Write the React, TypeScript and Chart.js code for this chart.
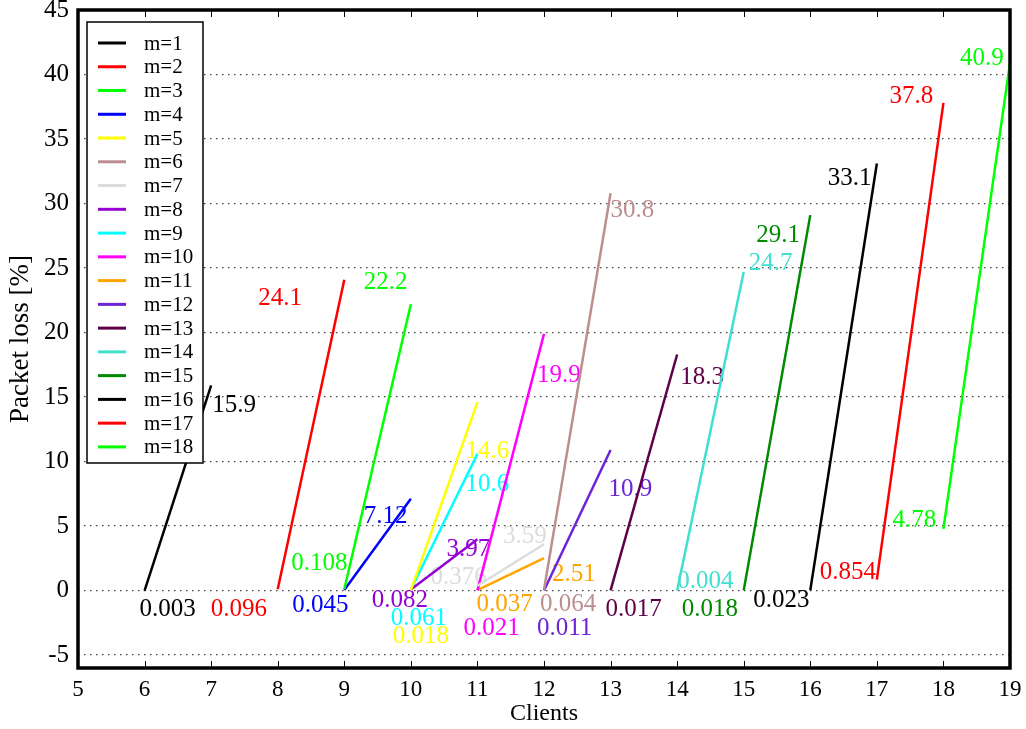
import { useEffect, useRef } from 'react';
import { Chart, registerables } from 'chart.js';

Chart.register(...registerables);

const seriesNames = ['m=1', 'm=2', 'm=3', 'm=4', 'm=5', 'm=6', 'm=7', 'm=8', 'm=9', 'm=10', 'm=11', 'm=12', 'm=13', 'm=14', 'm=15', 'm=16', 'm=17', 'm=18'];
const startClients = [6, 8, 9, 9, 10, 12, 11, 10, 10, 11, 11, 12, 13, 14, 15, 16, 17, 18];
const endClients = [7, 9, 10, 10, 11, 13, 12, 11, 11, 12, 12, 13, 14, 15, 16, 17, 18, 19];
const startLoss = [0.003, 0.096, 0.108, 0.045, 0.018, 0.064, 0.376, 0.082, 0.061, 0.021, 0.037, 0.011, 0.017, 0.004, 0.018, 0.023, 0.854, 4.78];
const endLoss = [15.9, 24.1, 22.2, 7.12, 14.6, 30.8, 3.59, 3.97, 10.6, 19.9, 2.51, 10.9, 18.3, 24.7, 29.1, 33.1, 37.8, 40.9];
const xTickValues = [5, 6, 7, 8, 9, 10, 11, 12, 13, 14, 15, 16, 17, 18, 19];
const yTickValues = [-5, 0, 5, 10, 15, 20, 25, 30, 35, 40, 45];

// styles
const colors = ['#000000', '#ff0000', '#00ff00', '#0000ff', '#ffff00', '#bc8f8f', '#dcdcdc', '#9400d3', '#00ffff', '#ff00ff', '#ffa500', '#6b24d6', '#5e0049', '#40e0d0', '#008a00', '#000000', '#ff0000', '#00ff00'];
// label pixel offsets [dx, dy] relative to the data point (text left, vertical middle)
const startOffsets = [[-5, 19], [-67, 20], [-53, -26], [-52, 15], [-18, 46], [-4, 15], [-47, -8], [-39, 11], [-20, 29], [-14, 38], [-1, 14], [-7, 38], [-5, 19], [0, -9], [-62, 19], [-57, 10], [-57, -7], [-51, -8]];
const endOffsets = [[1, 20], [-86, 19], [-47, -22], [-47, 18], [-12, 49], [0, 17], [-41, -8], [-31, 10], [-12, 31], [-7, 42], [8, 16], [-2, 39], [3, 23], [5, -8], [-54, 20], [-49, 15], [-54, -6], [-50, -4]];

const FONT = "'Liberation Serif', 'Times New Roman', serif";

const labelsPlugin = {
  id: 'pointLabels',
  beforeDatasetsDraw(chart: any) {
    const ctx = chart.ctx;
    const xs = chart.scales.x;
    const ys = chart.scales.y;
    ctx.save();
    ctx.font = `25px ${FONT}`;
    ctx.textAlign = 'left';
    ctx.textBaseline = 'middle';
    for (let i = 0; i < seriesNames.length; i++) {
      ctx.fillStyle = colors[i];
      const sx = xs.getPixelForValue(startClients[i]);
      const sy = ys.getPixelForValue(startLoss[i]);
      ctx.fillText(String(startLoss[i]), sx + startOffsets[i][0], sy + startOffsets[i][1]);
      const ex = xs.getPixelForValue(endClients[i]);
      const ey = ys.getPixelForValue(endLoss[i]);
      ctx.fillText(String(endLoss[i]), ex + endOffsets[i][0], ey + endOffsets[i][1]);
    }
    ctx.restore();
  },
  afterDraw(chart: any) {
    const ctx = chart.ctx;
    const a = chart.chartArea;
    const xs = chart.scales.x;
    ctx.save();
    // inward ticks
    ctx.strokeStyle = '#000';
    ctx.lineWidth = 1;
    for (const v of xTickValues) {
      const px = Math.round(xs.getPixelForValue(v)) + 0.5;
      ctx.beginPath();
      ctx.moveTo(px, a.bottom);
      ctx.lineTo(px, a.bottom - 7);
      ctx.moveTo(px, a.top);
      ctx.lineTo(px, a.top + 7);
      ctx.stroke();
    }
    // legend
    const bx = 87, by = 22, bw = 116, bh = 441;
    ctx.fillStyle = '#fff';
    ctx.fillRect(bx, by, bw, bh);
    ctx.lineWidth = 1.5;
    ctx.strokeStyle = '#000';
    ctx.strokeRect(bx, by, bw, bh);
    ctx.font = `21px ${FONT}`;
    ctx.textAlign = 'left';
    ctx.textBaseline = 'middle';
    for (let i = 0; i < seriesNames.length; i++) {
      const cy = 43 + i * 23.76;
      ctx.strokeStyle = colors[i];
      ctx.lineWidth = 3;
      ctx.beginPath();
      ctx.moveTo(98, cy);
      ctx.lineTo(126, cy);
      ctx.stroke();
      ctx.fillStyle = '#000';
      ctx.fillText(seriesNames[i], 144, cy + 1);
    }
    // frame
    ctx.strokeStyle = '#000';
    ctx.lineWidth = 3.5;
    ctx.strokeRect(a.left, a.top, a.right - a.left, a.bottom - a.top);
    ctx.restore();
  },
};

export default function App() {
  const ref = useRef<HTMLCanvasElement | null>(null);
  useEffect(() => {
    document.body.style.margin = '0';
    const canvas = ref.current;
    if (!canvas) return;
    const datasets = seriesNames.map((name, i) => ({
      label: name,
      data: [
        { x: startClients[i], y: startLoss[i] },
        { x: endClients[i], y: endLoss[i] },
      ],
      borderColor: colors[i],
      backgroundColor: colors[i],
      borderWidth: 2.5,
      pointRadius: 0,
      showLine: true,
      fill: false,
    }));
    const chart = new Chart(canvas, {
      type: 'scatter',
      data: { datasets },
      plugins: [labelsPlugin],
      options: {
        responsive: false,
        animation: false,
        events: [],
        layout: { padding: { top: 10, right: 16, left: 0, bottom: 0 } },
        plugins: {
          legend: { display: false },
          tooltip: { enabled: false },
        },
        scales: {
          x: {
            type: 'linear',
            min: 5,
            max: 19,
            afterBuildTicks: (s: any) => {
              s.ticks = xTickValues.map((v) => ({ value: v }));
            },
            afterFit: (s: any) => {
              s.height = 61;
              s.paddingLeft = 0;
              s.paddingRight = 0;
            },
            grid: { display: false },
            border: { display: false },
            ticks: {
              color: '#000',
              font: { family: FONT, size: 23 },
              padding: 0,
              maxRotation: 0,
              autoSkip: false,
            },
            title: {
              display: true,
              text: 'Clients',
              color: '#000',
              font: { family: FONT, size: 24 },
              padding: { top: 0, bottom: 1 },
            },
          },
          y: {
            type: 'linear',
            min: -6,
            max: 45,
            afterBuildTicks: (s: any) => {
              s.ticks = yTickValues.map((v) => ({ value: v }));
            },
            afterFit: (s: any) => {
              s.width = 78;
              s.paddingTop = 0;
              s.paddingBottom = 0;
            },
            grid: {
              color: '#444',
              lineWidth: 1.2,
              drawTicks: false,
              borderDash: [1.5, 4.5],
            } as any,
            border: { display: false, dash: [1.5, 4.5] } as any,
            ticks: {
              color: '#000',
              font: { family: FONT, size: 25 },
              padding: 9,
              autoSkip: false,
            },
            title: {
              display: true,
              text: 'Packet loss [%]',
              color: '#000',
              font: { family: FONT, size: 27 },
              padding: { top: 5, bottom: 0 },
            },
          },
        },
      } as any,
    });
    return () => chart.destroy();
  }, []);
  return (
    <div style={{ width: 1026, height: 729 }}>
      <canvas ref={ref} width={1026} height={729} style={{ display: 'block' }} />
    </div>
  );
}
